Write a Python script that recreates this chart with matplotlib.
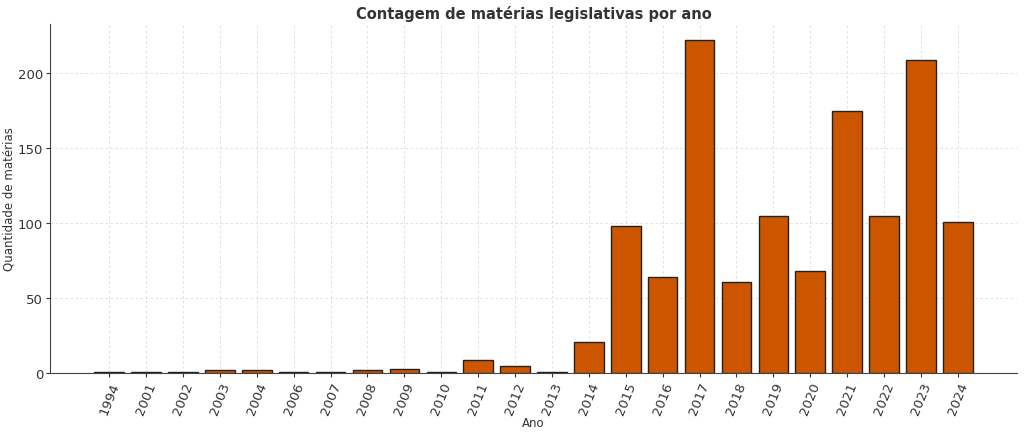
import matplotlib
matplotlib.use("Agg")
import matplotlib.pyplot as plt

# dados
anos = ["1994", "2001", "2002", "2003", "2004", "2006", "2007", "2008",
        "2009", "2010", "2011", "2012", "2013", "2014", "2015", "2016",
        "2017", "2018", "2019", "2020", "2021", "2022", "2023", "2024"]
qtd = [1, 1, 1, 2, 2, 1, 1, 2, 3, 1, 9, 5, 1, 21, 98, 64,
       222, 61, 105, 68, 175, 105, 209, 101]

fig, ax = plt.subplots(figsize=(10.24, 4.35), dpi=100)
fig.subplots_adjust(left=0.049, right=0.993, top=0.943, bottom=0.14)

pos = list(range(len(anos)))
ax.bar(pos, qtd, width=0.8, color="#cc5500", edgecolor="#222222", linewidth=1, zorder=3)

ax.set_xticks(pos)
ax.set_xticklabels(anos, rotation=68, fontsize=9.5, color="#333333")
ax.tick_params(axis="both", length=3, width=0.8, colors="#333333", pad=2)
ax.tick_params(axis="y", labelsize=9.5)
ax.set_xlim(-1.6, len(anos) - 1 + 1.6)
ax.set_ylim(0, 233.1)

ax.set_title("Contagem de matérias legislativas por ano", fontsize=10.5,
             fontweight="bold", color="#333333", pad=4)
ax.set_xlabel("Ano", fontsize=8.5, color="#333333", labelpad=0)
ax.set_ylabel("Quantidade de matérias", fontsize=8.5, color="#333333", labelpad=2)

ax.grid(True, linestyle=(0, (3, 3)), color="#dadada", linewidth=0.6, zorder=0)
for s in ["top", "right"]:
    ax.spines[s].set_visible(False)
for s in ["left", "bottom"]:
    ax.spines[s].set_color("#444444")

plt.savefig("out.png", dpi=100)
